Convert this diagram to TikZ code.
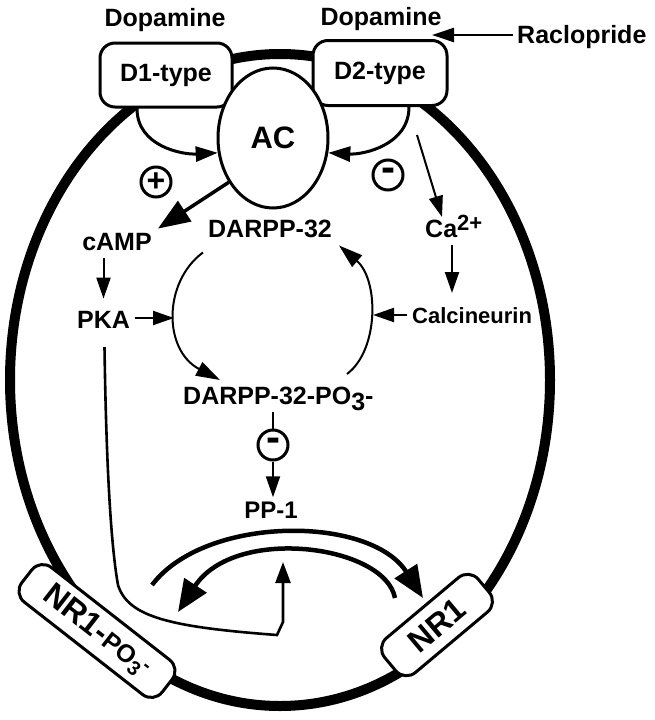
\documentclass[tikz,border=0pt]{standalone}
\usepackage{fontspec}
\setmainfont{Liberation Sans}
\usetikzlibrary{arrows.meta,shapes.geometric}
\newcommand\fsz[1]{\fontsize{#1}{#1}\selectfont}
\begin{document}
\begin{tikzpicture}[x=1pt,y=-1pt,
  txt/.style={font=\bfseries\fsz{25}, inner sep=0pt, anchor=base},
  rbox/.style={draw, line width=3pt, fill=white, rounded corners=15pt, inner sep=0pt, font=\bfseries\fsz{25}},
  sign/.style={circle, draw, line width=3pt, fill=white, minimum size=30pt, inner sep=0pt, font=\bfseries\fsz{32}},
  minus/.style={sign, font=\bfseries\fsz{42}},
  thinarr/.style={line width=2pt, -{Triangle[length=21pt,width=14pt]}},
  arcarr/.style={line width=2pt, -{Triangle[length=24pt,width=15pt]}},
  medarr/.style={line width=3pt, -{Triangle[length=22pt,width=15pt]}},
  bigarr/.style={line width=3.5pt, -{Triangle[length=32pt,width=24pt]}},
  hugearr/.style={line width=4.5pt, -{Triangle[length=32pt,width=26pt]}},
  longline/.style={line width=2.6pt, -{Triangle[length=21pt,width=15pt]}}
]
\useasboundingbox (0,0) rectangle (654,720);
% cell outline
\draw[line width=10pt] (280,380) ellipse [x radius=270, y radius=326];

% receptors
\node[rbox, minimum width=132pt, minimum height=64pt] (d1) at (166,75) {D1-type};
\node[rbox, minimum width=134pt, minimum height=65pt] (d2) at (380,73) {D2-type};
\node[draw, ellipse, fill=white, line width=3pt, minimum width=110pt, minimum height=140pt, inner sep=0pt, font=\bfseries\fsz{31}] (ac) at (273,138) {AC};

% labels
\node[txt] (dop1) at (165,27) {Dopamine};
\node[txt] (dop2) at (381,25) {Dopamine};
\node[txt, anchor=base west] (rac) at (517,43) {Raclopride};
\coordinate (racend) at (432,35);
\draw[line width=2.5pt, -{Triangle[length=22pt,width=14pt]}] ([xshift=-4pt]racend -| rac.west) -- (racend);

% signs
\node[sign] (plus) at (156,182) {\raisebox{-1pt}{+}};
\node[minus] (minus1) at (388,175) {\raisebox{-4.5pt}{-}};

% D1/D2 -> AC
\draw[medarr] ([xshift=-29pt]d1.south) .. controls +(0,38) and +(-35,2) .. (ac.195);
\draw[medarr] ([xshift=29pt]d2.south) .. controls +(0,38) and +(35,2) .. (ac.345);

% cAMP / PKA
\node[txt] (camp) at (117,250) {cAMP};
\node[txt] (pka) at (103.5,328) {PKA};
\draw[bigarr] (ac.225) -- ([shift={(6,-4)}]camp.north east);
\draw[thinarr] ([shift={(0,8)}]pka.north |- camp.south) -- ([shift={(0,-12)}]pka.north);

% DARPP
\node[txt] (darpp) at (270,237) {DARPP-32};
\node[txt, anchor=base west] (darppo) at (183,404) {DARPP-32-PO\raisebox{-6pt}{3}-};
\draw[arcarr] ([shift={(-5,15)}]darpp.south west) .. controls (163,282) and (163,350) .. ([shift={(37,-24)}]darppo.base west);
\draw[arcarr] ([shift={(164,-30)}]darppo.base west) .. controls (379,350) and (379,280) .. ([shift={(7,8)}]darpp.south east);
\coordinate (arcL) at (174,318);
\draw[thinarr] ([xshift=5pt]arcL -| pka.east) -- (arcL);

% Ca / Calcineurin
\node[txt, anchor=base west] (ca) at (425,237) {Ca\raisebox{7pt}{\fsz{22}2+}};
\node[txt, anchor=base west, font=\bfseries\fsz{22}] (calc) at (412,323) {Calcineurin};
\coordinate (d2ca) at (417,135);
\draw[thinarr] (d2ca) -- ([shift={(17,-20)}]ca.base west);
\draw[thinarr] ([shift={(27,8)}]ca.base west) -- ([shift={(40,-30)}]calc.base west);
\coordinate (arcR) at (373,315);
\draw[thinarr] ([xshift=-5pt]arcR -| calc.west) -- (arcR);

% PP-1
\node[minus] (m3) at (273,445) {\raisebox{-4.5pt}{-}};
\node[txt, font=\bfseries\fsz{24}] (pp1) at (271,518) {PP-1};
\draw[line width=2pt] ([shift={(0,2)}]m3.north |- darppo.south) -- (m3.north);
\draw[thinarr] (m3.south) -- ([shift={(0,-4)}]pp1.north -| m3.south);

% NR1 boxes
\node[rbox, rotate=-38, minimum width=178pt, minimum height=44pt, rounded corners=14pt, font=\bfseries\fsz{32}] (nrp) at (97,631) {NR1-{\fsz{25}PO\raisebox{-5pt}{\fsz{20}3}\raisebox{6pt}{\fsz{20}-}}};
\node[rbox, rotate=40, minimum width=122pt, minimum height=45pt, rounded corners=14pt, font=\bfseries\fsz{32}] (nr1) at (437,625) {NR1};

% big exchange arrows
\coordinate (ua0) at (152,585);
\coordinate (ua1) at (423,598);
\coordinate (la0) at (395,598);
\coordinate (la1) at (178,612);
\draw[hugearr] (ua0) .. controls (205,515) and (370,515) .. (ua1);
\draw[hugearr] (la0) .. controls (385,545) and (235,525) .. (la1);

% PKA long path
\coordinate (pkatip) at (283,562);
\draw[longline] ([shift={(1,19)}]pka.south) .. controls (106,450) and (110,540) .. (118,585)
   .. controls (128,617) and (170,627) .. (277,635) -- (283,622) -- (pkatip);
\end{tikzpicture}
\end{document}
